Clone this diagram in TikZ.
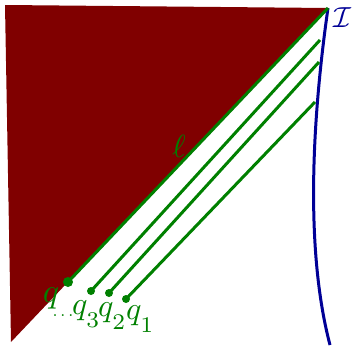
\documentclass[tikz,border=0pt]{standalone}
\usepackage{amsmath,amssymb}
\newcommand{\lowsub}[1]{_{\lower2.8pt\hbox{$\scriptstyle #1$}}}
\begin{document}
\begin{tikzpicture}[x=1pt,y=-1pt,
  gline/.style={draw=dgreen, line width=3pt},
  bline/.style={draw=dblue, line width=3pt},
  bigdot/.style={circle, fill=dgreen, inner sep=0pt, minimum size=10pt},
  smalldot/.style={circle, fill=dgreen, inner sep=0pt, minimum size=8pt},
  lab/.style={anchor=base, inner sep=0pt}]
\definecolor{darkred}{RGB}{128,0,0}
\definecolor{dgreen}{RGB}{0,128,0}
\definecolor{dblue}{RGB}{0,0,150}
\useasboundingbox (0,0) rectangle (352,350);
\coordinate (tl) at (5,5);
\coordinate (top) at (328,8);
\coordinate (bl) at (11,342);
\coordinate (bot) at (330,345);
\fill[darkred] (tl) -- (top) -- (bl) -- cycle;
\draw[bline] (top) .. controls (312,120) and (305,250) .. (bot);
% endpoints on the curve
\coordinate (e3) at (320,40);
\coordinate (e2) at (319,62);
\coordinate (e1) at (315,102);
% points
\node[bigdot] (q) at (68,282) {};
\node[smalldot] (q3) at (91,291) {};
\node[smalldot] (q2) at (109,293) {};
\node[smalldot] (q1) at (126,299) {};
\draw[gline] (top) -- (q.center);
\draw[gline] (e3) -- (q3.center);
\draw[gline] (e2) -- (q2.center);
\draw[gline] (e1) -- (q1.center);
% labels
\node[lab, text=dgreen] (lell) at (179,157) {\scalebox{3.2}{$\ell$}};
\node[lab, text=dblue] (lI) at (342,28) {\scalebox{2.9}{$\mathcal{I}$}};
\node[lab, text=dgreen] (lq) at (51,302) {\scalebox{3.4}{$q$}};
\node[anchor=center, inner sep=0pt, text=dgreen] (ldots) at (63,316) {\scalebox{1.8}{$\ldots$}};
\node[lab, text=dgreen] (lq3) at (86.5,314) {\scalebox{3.2}{$q\lowsub{3}$}};
\node[lab, text=dgreen] (lq2) at (112.5,316) {\scalebox{3.2}{$q\lowsub{2}$}};
\node[lab, text=dgreen] (lq1) at (140.5,319) {\scalebox{3.2}{$q\lowsub{1}$}};
\end{tikzpicture}
\end{document}
